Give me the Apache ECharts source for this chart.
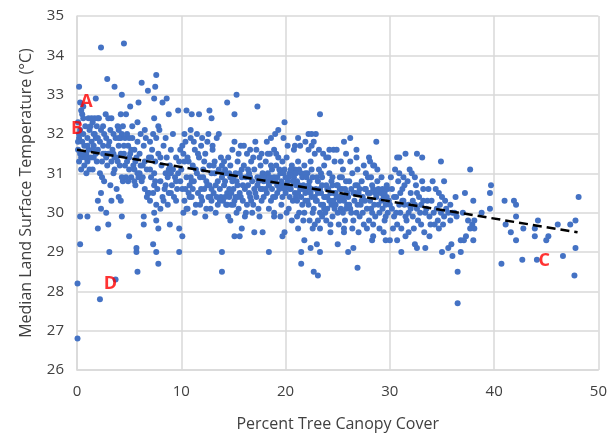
<!DOCTYPE html>
<html><head><meta charset="utf-8">
<script src="https://cdn.jsdelivr.net/npm/echarts@6/dist/echarts.min.js"></script>
<style>html,body{margin:0;padding:0;background:#fff}#c{width:610px;height:437px}</style>
</head><body><div id="c"></div>
<script>
const xTicks = [0,10,20,30,40,50];
const yTicks = [26,27,28,29,30,31,32,33,34,35];
const trend = [[0,31.6],[48,29.5]];
const annotations = [["A",0.9,32.82],["B",0.0,32.12],["C",44.8,28.77],["D",3.2,28.2]];

const cloud0_3 = [[0.1,31.6],[0.2,31.9],[0.3,32.1],[0.1,32.3],[0.4,31.4],[0.5,31.8],[0.6,32.0],[0.3,31.5],[0.7,31.7],[0.8,32.2],[0.9,31.5],[0.2,31.3],[0.5,32.5],[0.4,32.6],[0.6,32.4],[1.0,31.9],[1.1,31.6],[1.2,32.1],[1.3,31.4],[1.4,31.8],[1.5,32.3],[1.6,31.7],[1.7,32.0],[1.8,31.5],[1.9,32.2],[1.0,31.3],[1.2,31.1],[1.5,31.1],[1.6,31.4],[1.1,32.4],[1.3,32.2],[1.8,31.9],[2.0,31.6],[2.1,32.4],[2.2,31.8],[2.3,32.1],[2.4,31.3],[2.5,31.7],[2.6,32.0],[2.7,31.5],[2.8,31.9],[2.9,31.2],[2.2,31.0],[2.4,30.9],[2.6,30.8],[0.7,31.2],[0.9,31.0],[0.3,32.8],[0.6,32.7],[1.4,32.4],[1.7,32.4],[2.0,32.4],[0.8,31.4],[0.4,31.1],[1.9,31.3],[2.8,31.4],[2.5,32.2],[1.6,32.0],[0.2,32.0],[0.1,31.8]];
const cloud3_6 = [[3.0,31.5],[3.1,31.8],[3.2,32.1],[3.3,31.3],[3.4,31.6],[3.5,32.0],[3.6,31.1],[3.7,31.9],[3.8,31.4],[3.9,32.2],[4.0,31.7],[4.1,31.2],[4.2,31.9],[4.3,32.0],[4.4,30.8],[4.5,31.5],[4.6,31.9],[4.7,30.9],[4.8,31.3],[4.9,31.7],[5.0,31.1],[5.1,31.5],[5.2,30.9],[5.3,31.9],[5.4,31.2],[5.5,31.6],[5.6,30.7],[5.7,31.4],[5.8,31.8],[5.9,30.9],[3.3,32.4],[3.6,31.4],[4.0,32.1],[4.4,32.2],[4.9,30.8],[5.3,32.2],[5.6,31.3],[3.2,30.7],[3.8,30.6],[4.3,30.9],[5.0,31.9],[5.8,31.0],[3.5,31.0],[4.6,31.2],[5.2,31.6],[3.9,31.3],[4.8,32.0],[5.5,30.8],[4.2,31.5]];
const cloud6_10 = [[6.0,31.5],[6.1,32.0],[6.2,30.8],[6.3,31.2],[6.4,31.7],[6.5,30.6],[6.6,31.9],[6.7,31.1],[6.8,30.5],[6.9,31.4],[7.0,31.8],[7.1,30.9],[7.2,31.6],[7.3,32.0],[7.4,30.7],[7.5,31.3],[7.6,31.9],[7.7,30.6],[7.8,31.5],[7.9,32.1],[8.0,30.8],[8.1,31.2],[8.2,30.4],[8.3,31.7],[8.4,30.6],[8.5,31.0],[8.6,31.4],[8.7,30.9],[8.8,30.5],[8.9,31.2],[9.0,31.6],[9.1,30.7],[9.2,31.1],[9.3,30.4],[9.4,30.9],[9.5,31.4],[9.6,30.6],[9.7,31.0],[9.8,31.3],[9.9,30.8],[6.3,30.9],[6.7,30.4],[7.0,30.3],[7.3,30.5],[7.6,30.2],[8.0,30.1],[8.3,30.3],[6.5,32.1],[7.8,32.2],[8.5,31.9],[9.2,32.0],[6.9,30.5],[7.4,31.0],[8.8,31.1],[9.5,30.3],[6.1,31.2],[7.1,31.4],[8.7,30.2],[9.9,31.6],[9.0,30.5]];
const cloud10_14 = [[10.0,31.1],[10.1,30.6],[10.2,31.5],[10.3,30.3],[10.4,31.8],[10.5,30.9],[10.6,30.1],[10.7,31.3],[10.8,30.7],[10.9,31.9],[11.0,30.4],[11.1,31.2],[11.2,30.8],[11.3,31.6],[11.4,30.2],[11.5,31.0],[11.6,30.5],[11.7,31.4],[11.8,30.9],[11.9,31.7],[12.0,30.3],[12.1,31.1],[12.2,30.6],[12.3,31.5],[12.4,30.8],[12.5,31.8],[12.6,30.4],[12.7,31.2],[12.8,30.1],[12.9,31.0],[13.0,31.6],[13.1,30.5],[13.2,31.3],[13.3,30.7],[13.4,31.9],[13.5,30.2],[13.6,31.1],[13.7,30.6],[13.8,31.4],[13.9,30.9],[10.2,30.0],[10.5,30.1],[10.8,30.4],[11.3,30.0],[11.8,30.2],[12.3,29.9],[12.8,30.4],[13.3,30.0],[10.3,32.0],[10.9,32.1],[11.5,32.0],[12.0,31.9],[12.6,32.0],[13.0,31.7],[13.6,32.0],[10.6,31.4],[11.0,30.8],[11.6,31.5],[12.2,31.3],[12.7,30.7],[13.2,31.0],[13.8,30.4],[10.1,31.7],[11.2,31.8],[12.4,30.1],[13.5,30.8],[11.9,30.6],[10.7,30.5],[12.9,30.3],[13.9,31.2]];
const cloud14_18 = [[14.0,30.3],[14.1,30.7],[14.2,31.1],[14.3,30.2],[14.4,30.5],[14.5,31.4],[14.6,30.4],[14.7,30.9],[14.8,30.2],[14.9,31.6],[15.0,30.6],[15.1,30.3],[15.2,31.0],[15.3,30.8],[15.4,31.3],[15.5,30.1],[15.6,30.5],[15.7,31.7],[15.8,30.9],[15.9,30.3],[16.0,31.2],[16.1,30.6],[16.2,30.0],[16.3,31.5],[16.4,30.7],[16.5,31.0],[16.6,30.4],[16.7,31.3],[16.8,30.8],[16.9,30.2],[17.0,31.1],[17.1,30.5],[17.2,31.6],[17.3,30.9],[17.4,30.1],[17.5,31.4],[17.6,30.6],[17.7,30.3],[17.8,31.0],[17.9,30.8],[14.2,30.4],[14.4,30.2],[14.6,30.6],[14.8,30.5],[15.0,30.2],[15.2,30.4],[14.3,31.0],[14.7,31.2],[15.1,31.8],[15.5,31.5],[16.0,31.7],[16.6,31.6],[17.1,31.8],[17.7,31.5],[14.5,29.9],[15.3,30.0],[16.1,29.9],[16.8,30.0],[17.5,29.9],[14.9,30.8],[15.7,30.4],[16.4,31.1],[17.2,30.4],[17.8,30.6],[15.4,30.7],[16.2,30.9],[16.9,31.4],[17.6,31.2],[14.1,31.3],[15.8,31.1],[16.7,30.3],[17.3,30.7]];
const cloud18_22 = [[18.0,30.9],[18.1,31.3],[18.2,30.5],[18.3,31.0],[18.4,30.7],[18.5,31.5],[18.6,30.3],[18.7,31.1],[18.8,30.8],[18.9,31.6],[19.0,30.4],[19.1,31.2],[19.2,30.9],[19.3,31.4],[19.4,30.6],[19.5,31.0],[19.6,30.2],[19.7,31.3],[19.8,30.7],[19.9,31.1],[20.0,30.5],[20.1,31.4],[20.2,30.8],[20.3,30.1],[20.4,31.0],[20.5,30.6],[20.6,31.2],[20.7,30.3],[20.8,30.9],[20.9,31.1],[21.0,30.4],[21.1,30.8],[21.2,31.3],[21.3,30.0],[21.4,30.6],[21.5,31.0],[21.6,30.2],[21.7,30.7],[21.8,31.2],[21.9,30.5],[18.2,31.8],[18.6,31.9],[19.0,32.0],[19.3,32.1],[19.8,31.9],[20.2,31.7],[20.8,31.6],[21.4,31.7],[18.4,30.1],[18.9,30.0],[19.5,29.9],[20.1,30.0],[20.6,29.8],[21.1,29.9],[21.7,29.8],[18.1,30.6],[18.5,30.9],[18.8,30.4],[19.2,30.7],[19.6,30.8],[19.9,30.6],[20.3,30.9],[20.7,31.0],[21.0,30.7],[21.3,31.1],[21.6,30.9],[21.9,30.3],[18.3,31.5],[19.1,31.5],[19.7,30.4],[20.4,30.4],[20.9,30.5],[21.5,30.4],[21.8,30.0],[18.7,30.6],[19.4,31.1],[20.5,31.1],[21.2,30.5]];
const cloud22_26 = [[22.0,30.6],[22.1,31.0],[22.2,30.2],[22.3,30.8],[22.4,31.3],[22.5,30.4],[22.6,30.9],[22.7,30.1],[22.8,31.5],[22.9,30.6],[23.0,30.3],[23.1,30.8],[23.2,31.1],[23.3,30.0],[23.4,30.5],[23.5,30.9],[23.6,30.2],[23.7,31.2],[23.8,30.4],[23.9,30.7],[24.0,30.1],[24.1,30.6],[24.2,31.0],[24.3,30.3],[24.4,30.8],[24.5,29.9],[24.6,30.5],[24.7,31.3],[24.8,30.2],[24.9,30.7],[25.0,30.0],[25.1,30.4],[25.2,30.9],[25.3,30.1],[25.4,30.6],[25.5,31.1],[25.6,30.3],[25.7,29.8],[25.8,30.8],[25.9,30.2],[22.3,29.8],[22.8,29.7],[23.1,29.8],[23.5,29.9],[23.9,29.8],[24.3,29.7],[25.1,29.7],[25.6,29.6],[22.2,31.6],[22.7,31.8],[23.2,31.6],[23.6,31.5],[24.1,31.4],[24.6,31.6],[25.3,31.3],[25.8,31.5],[22.4,30.5],[22.9,30.3],[23.3,30.6],[23.7,30.1],[24.0,30.4],[24.4,30.2],[24.8,30.5],[25.2,30.3],[25.5,30.0],[22.1,30.3],[22.6,30.0],[23.0,30.9],[23.8,30.0],[24.2,30.3],[24.7,30.1],[25.0,30.7],[25.9,30.5],[22.5,31.1],[23.4,31.0],[24.5,30.9],[25.4,30.9]];
const cloud26_30 = [[26.0,30.4],[26.1,30.8],[26.2,30.1],[26.3,30.6],[26.4,31.0],[26.5,29.8],[26.6,30.3],[26.7,30.7],[26.8,30.0],[26.9,31.1],[27.0,30.5],[27.1,29.9],[27.2,30.2],[27.3,30.8],[27.4,30.4],[27.5,29.7],[27.6,30.6],[27.7,31.0],[27.8,30.1],[27.9,30.5],[28.0,29.8],[28.1,30.3],[28.2,30.9],[28.3,30.0],[28.4,30.6],[28.5,31.2],[28.6,29.9],[28.7,30.4],[28.8,30.8],[28.9,30.2],[29.0,29.6],[29.1,30.5],[29.2,30.9],[29.3,30.1],[29.4,30.4],[29.5,29.8],[29.6,30.2],[29.7,30.7],[29.8,30.0],[29.9,30.3],[26.2,31.3],[26.8,31.4],[27.5,31.2],[28.1,31.3],[28.8,31.1],[26.4,29.6],[27.0,29.5],[27.8,29.6],[28.4,29.7],[29.4,29.5],[26.3,30.0],[26.9,30.2],[27.4,30.0],[27.9,30.9],[28.6,30.5],[29.2,30.3],[29.8,30.6],[26.7,30.5],[27.6,30.3],[28.2,30.1],[29.0,30.0],[29.6,29.9]];
const cloud30_34 = [[30.0,30.2],[30.2,30.6],[30.4,29.9],[30.6,30.4],[30.8,30.8],[31.0,30.0],[31.2,30.3],[31.4,30.7],[31.6,29.8],[31.8,30.2],[32.0,30.5],[32.2,29.9],[32.4,30.9],[32.6,30.1],[32.8,30.4],[33.0,29.7],[33.2,30.6],[33.4,30.0],[33.6,30.3],[33.8,29.9],[30.1,30.9],[30.5,31.1],[30.9,31.0],[31.3,30.9],[31.7,30.8],[32.1,31.0],[32.5,30.7],[33.1,30.8],[33.7,30.6],[30.3,29.6],[30.7,29.7],[31.1,29.6],[31.5,29.9],[32.3,29.6],[32.7,29.8],[33.3,29.5],[33.9,29.7],[30.2,30.1],[30.6,30.0],[31.0,30.5],[31.4,30.2],[31.8,30.0],[32.2,30.3],[32.6,30.5],[33.0,30.2],[33.5,30.1],[31.3,30.3],[32.9,30.0],[30.9,30.2],[32.4,30.2]];
const cloud34_38 = [[34.0,30.3],[34.2,30.0],[34.4,30.6],[34.6,29.8],[34.8,30.2],[35.0,30.4],[35.2,29.9],[35.4,30.1],[35.6,30.0],[35.8,29.8],[36.0,30.0],[36.4,29.9],[34.1,30.8],[34.5,30.1],[34.9,30.0],[35.3,30.3],[34.3,29.7],[35.1,29.7],[36.2,30.0],[37.0,30.0],[37.5,29.8],[37.9,29.7]];
const cloudCore = [[10.4,30.6],[10.9,30.9],[11.4,31.1],[11.9,30.4],[12.5,30.7],[13.1,31.2],[13.7,30.3],[14.2,30.8],[14.6,31.0],[15.0,30.9],[15.4,30.4],[15.9,30.7],[16.3,30.2],[16.6,30.9],[17.0,30.6],[17.4,30.8],[17.9,30.4],[18.3,30.8],[18.6,31.2],[18.9,30.9],[19.2,30.5],[19.5,30.7],[19.8,31.0],[20.1,30.7],[20.4,30.6],[20.7,30.8],[21.0,31.0],[21.3,30.7],[21.6,30.6],[21.9,31.0],[22.2,30.7],[22.5,30.6],[22.8,30.4],[23.1,30.5],[23.4,30.2],[23.7,30.4],[24.0,30.6],[24.3,30.5],[24.6,30.3],[24.9,30.4],[25.2,30.6],[25.5,30.4],[25.8,30.1],[26.1,30.2],[26.5,30.5],[26.9,30.7],[27.3,30.3],[27.7,30.6],[28.1,30.5],[28.5,30.2],[28.9,30.6],[29.3,30.6],[29.7,30.4],[10.3,31.3],[11.1,30.6],[12.1,30.9],[12.9,30.6],[13.4,30.4],[14.0,31.0],[15.6,31.0],[16.5,30.5],[17.6,30.9],[19.0,30.8],[20.0,30.9],[21.1,30.3],[22.0,30.9],[23.5,30.7],[24.5,30.7],[25.7,30.6],[27.1,30.6],[28.3,30.7],[29.5,30.5],[30.4,30.4],[31.2,30.6],[32.0,30.1],[33.2,30.3],[1.0,31.7],[2.0,31.9],[3.0,31.7],[4.0,31.9],[5.0,31.4],[6.0,31.0],[7.0,31.1],[8.0,31.4],[9.0,31.0],[0.5,31.5],[1.5,31.6],[2.5,31.5],[3.5,31.5],[4.5,31.7],[5.5,31.1],[6.5,31.3],[7.5,30.8],[8.5,30.7],[9.5,30.8]];
const sparseHigh = [[2.3,34.2],[4.5,34.3],[2.9,33.4],[0.2,33.2],[3.6,33.2],[6.2,33.3],[6.8,33.1],[7.6,33.5],[7.5,33.2],[4.3,33.0],[1.8,32.9],[5.9,32.8],[5.1,32.7],[7.4,32.9],[8.6,32.9],[8.2,32.8],[15.3,33.0],[17.3,32.7],[14.4,32.8],[12.7,32.6],[15.1,32.5],[23.3,32.5],[9.7,32.6],[10.5,32.6],[11.0,32.5],[11.7,32.5],[12.9,32.4],[19.9,32.3],[8.8,32.5],[2.75,32.5],[3.0,32.4],[4.2,32.5],[4.7,32.5],[7.4,32.4],[5.8,32.3],[28.7,31.8],[26.2,31.9],[25.6,31.8],[24.2,31.6],[24.9,31.6],[23.9,31.4],[26.8,31.6],[32.6,31.5],[33.1,31.4],[31.5,31.5],[30.7,31.4],[30.9,31.4],[31.9,31.1],[28.0,31.4],[28.4,31.2],[22.2,32.0],[22.5,32.0],[22.9,32.0],[21.2,31.9],[21.9,31.8],[22.5,31.7],[20.9,31.7],[34.9,31.3],[37.7,31.1]];
const sparseLow = [[0.05,26.8],[0.05,28.2],[2.2,27.8],[3.7,28.3],[0.3,29.2],[0.3,29.9],[1.0,29.9],[2.0,29.6],[3.1,29.0],[3.0,29.7],[2.8,30.0],[3.3,30.3],[2.3,30.5],[2.3,30.1],[2.0,30.3],[4.3,29.9],[4.2,30.3],[4.0,30.4],[5.0,29.4],[5.7,29.1],[5.7,29.0],[5.8,28.5],[6.4,29.7],[6.4,29.9],[7.3,29.2],[7.4,30.0],[7.6,29.0],[7.8,28.7],[7.6,29.8],[7.8,29.6],[8.9,29.7],[9.8,29.0],[9.8,29.6],[10.1,29.4],[13.9,29.0],[13.9,28.5],[14.7,29.8],[15.1,29.4],[15.6,29.4],[15.8,29.6],[17.0,29.5],[17.8,29.5],[18.4,29.0],[18.9,29.9],[19.7,29.4],[19.9,29.5],[21.2,29.6],[21.5,29.0],[21.5,28.7],[21.8,29.3],[22.4,29.1],[22.7,28.5],[23.1,28.4],[23.3,29.0],[23.0,29.2],[22.6,29.6],[23.3,29.6],[24.3,29.5],[25.0,29.2],[25.6,29.5],[26.0,29.0],[26.5,29.1],[26.9,28.6],[28.3,29.3],[28.4,29.4],[29.6,29.3],[30.0,29.3],[30.7,29.3],[31.1,29.0],[31.5,29.4],[31.8,29.5],[32.4,29.2],[32.6,29.1],[33.4,29.1],[33.8,29.4],[34.7,29.6],[35.0,29.0],[35.6,29.1],[35.9,29.2],[36.0,28.9],[36.5,28.5],[36.5,27.7],[36.8,29.0],[36.8,29.3],[37.1,29.3],[37.3,29.4],[37.7,29.6],[38.0,29.3],[38.1,29.6],[38.1,29.8]];
const sparseRight = [[37.2,30.5],[38.0,30.3],[38.8,30.0],[39.6,30.5],[39.7,30.7],[39.6,30.1],[40.7,28.7],[41.0,30.3],[41.1,29.7],[41.6,29.5],[41.9,30.3],[42.1,30.2],[42.1,29.9],[42.1,29.3],[42.8,29.6],[42.7,28.8],[43.9,29.6],[44.2,29.8],[43.9,29.4],[44.1,28.8],[45.0,29.3],[45.2,29.4],[46.1,29.7],[46.6,28.9],[47.3,29.7],[47.8,29.8],[47.8,29.1],[47.7,28.4],[48.1,30.4],[36.3,30.4],[35.8,30.2],[35.2,30.8],[34.7,30.5]];

const points = [].concat(cloud0_3, cloud3_6, cloud6_10, cloud10_14, cloud14_18, cloud18_22, cloud22_26, cloud26_30, cloud30_34, cloud34_38, cloudCore, sparseHigh, sparseLow, sparseRight);

const chart = echarts.init(document.getElementById('c'));
const FONT = 'Open Sans';
chart.setOption({
  animation: false,
  grid: {left: 77, right: 9, top: 16, bottom: 67},
  xAxis: {
    type: 'value', min: xTicks[0], max: xTicks[xTicks.length-1], interval: 10,
    name: 'Percent Tree Canopy Cover', nameLocation: 'middle', nameGap: 46,
    nameTextStyle: {fontFamily: FONT, fontSize: 16, color: '#404040'},
    axisLine: {show: true, lineStyle: {color: '#d9d9d9', width: 1.5}},
    axisTick: {show: false},
    axisLabel: {fontFamily: FONT, fontSize: 15, color: '#404040', margin: 14},
    splitLine: {show: true, lineStyle: {color: '#d9d9d9', width: 1.5}}
  },
  yAxis: {
    type: 'value', min: yTicks[0], max: yTicks[yTicks.length-1], interval: 1,
    name: 'Median Land Surface Temperature (°C)', nameLocation: 'middle', nameGap: 43,
    nameTextStyle: {fontFamily: FONT, fontSize: 16, color: '#404040'},
    axisLine: {show: true, lineStyle: {color: '#d9d9d9', width: 1.5}},
    axisTick: {show: false},
    axisLabel: {fontFamily: FONT, fontSize: 15, color: '#404040', margin: 13},
    splitLine: {show: true, lineStyle: {color: '#d9d9d9', width: 1.5}}
  },
  series: [
    {type: 'scatter', data: points, symbolSize: 6, itemStyle: {color: '#4472C4', opacity: 1}, z: 2},
    {type: 'line', data: trend, symbol: 'none', lineStyle: {color: '#000', width: 2.5, type: [9, 5]}, z: 3},
    {type: 'scatter', data: annotations.map(a => [a[1], a[2], a[0]]), symbolSize: 0, z: 4,
     label: {show: true, position: 'inside', formatter: p => p.data[2], color: '#FF0000', fontWeight: 'bold', fontSize: 18, fontFamily: FONT}}
  ]
});
</script></body></html>
